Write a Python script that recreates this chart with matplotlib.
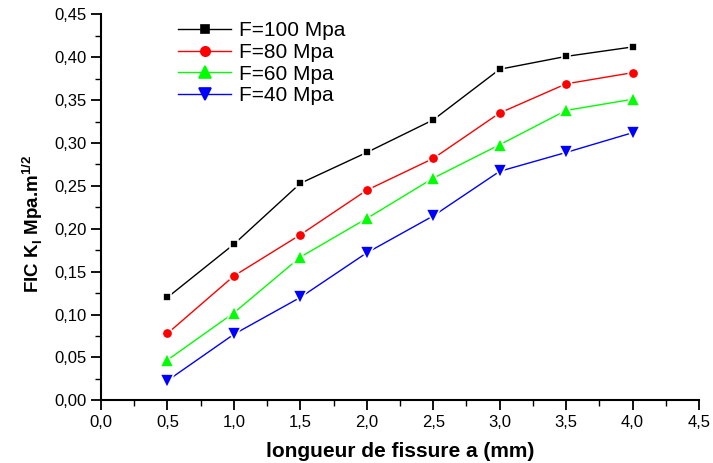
import matplotlib
matplotlib.use("Agg")
import matplotlib.pyplot as plt
from matplotlib.ticker import MultipleLocator, FuncFormatter

plt.rcParams['font.family'] = ['Liberation Sans', 'DejaVu Sans']
plt.rcParams['mathtext.fontset'] = 'custom'
plt.rcParams['mathtext.rm'] = 'Liberation Sans'
plt.rcParams['mathtext.bf'] = 'Liberation Sans:bold'

# crack length (mm)
a = [0.5, 1.0, 1.5, 2.0, 2.5, 3.0, 3.5, 4.0]

# stress intensity factor K_I for each load
k_100 = [0.120, 0.182, 0.253, 0.289, 0.327, 0.386, 0.401, 0.412]
k_80 = [0.078, 0.145, 0.193, 0.245, 0.282, 0.335, 0.369, 0.382]
k_60 = [0.047, 0.102, 0.167, 0.212, 0.259, 0.298, 0.338, 0.351]
k_40 = [0.023, 0.077, 0.120, 0.172, 0.215, 0.267, 0.289, 0.312]

labels = ['F=100 Mpa', 'F=80 Mpa', 'F=60 Mpa', 'F=40 Mpa']

fig = plt.figure(figsize=(7.13, 4.63), dpi=100)
ax = fig.add_axes([0.1417, 0.1354, 0.8387, 0.8336])

styles = [
    (k_100, 'black', 's', 6.0),
    (k_80, 'red', 'o', 7.5),
    (k_60, '#00ff00', '^', 10.0),
    (k_40, 'blue', 'v', 10.0),
]
for (vals, col, mk, ms), lab in zip(styles, labels):
    ax.plot(a, vals, color=col, lw=1.0, marker=mk, ms=ms,
            markerfacecolor=col, markeredgecolor='white', markeredgewidth=1.2,
            label=lab)

ax.set_xlim(0, 4.5)
ax.set_ylim(0, 0.45)
ax.xaxis.set_major_locator(MultipleLocator(0.5))
ax.xaxis.set_minor_locator(MultipleLocator(0.25))
ax.yaxis.set_major_locator(MultipleLocator(0.05))
ax.yaxis.set_minor_locator(MultipleLocator(0.025))
ax.xaxis.set_major_formatter(FuncFormatter(lambda v, p: f"{v:.1f}".replace('.', ',')))
ax.yaxis.set_major_formatter(FuncFormatter(lambda v, p: f"{v:.2f}".replace('.', ',')))

for s in ['top', 'right']:
    ax.spines[s].set_visible(False)
for s in ['left', 'bottom']:
    ax.spines[s].set_linewidth(1.5)

ax.tick_params(which='major', direction='out', length=7, width=1.3, labelsize=12)
ax.tick_params(which='minor', direction='out', length=4, width=1.0)

ax.set_xlabel('longueur de fissure a (mm)', fontsize=15, fontweight='bold', labelpad=9)
ax.set_ylabel(r'FIC K$_{\mathbf{I}}$ Mpa.m$^{\mathbf{1/2}}$', fontsize=13.5,
              fontweight='bold')
ax.yaxis.set_label_coords(-0.093, 0.457)

leg = ax.legend(loc='upper left', bbox_to_anchor=(0.129, 0.982), frameon=False,
                fontsize=15, handlelength=2.55, handletextpad=0.35,
                labelspacing=0.13, borderaxespad=0.0, borderpad=0.0)
for h in leg.legend_handles:
    h.set_markeredgecolor(h.get_color())
    h.set_markersize(h.get_markersize() * 0.9)

fig.savefig('out.png', dpi=100)
